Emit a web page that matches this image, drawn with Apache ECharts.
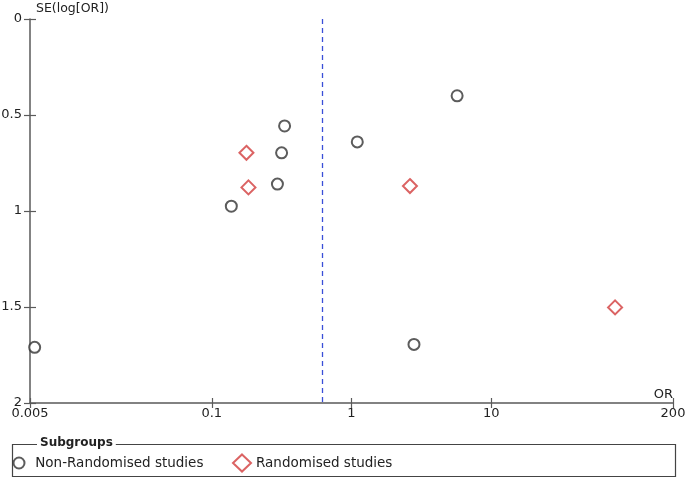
<!DOCTYPE html>
<html><head><meta charset="utf-8">
<script src="https://cdn.jsdelivr.net/npm/echarts@6/dist/echarts.min.js"></script>
<style>html,body{margin:0;padding:0;background:#fff}#c{width:688px;height:480px}</style>
</head><body><div id="c"></div>
<script>
// [OR, SE(log[OR])]
const nonRandomised = [[0.0054,1.71],[0.138,0.975],[0.295,0.86],[0.316,0.697],[0.332,0.557],[1.10,0.64],[5.7,0.40],[2.8,1.695]];
const randomised = [[0.177,0.697],[0.183,0.877],[2.62,0.87],[77,1.502]];
const pooledOR = 0.62;
const xTicks = [0.005,0.1,1,10,200];
const yTicks = [0,0.5,1,1.5,2];
const seriesNames = ['Non-Randomised studies','Randomised studies'];

const FONT = 'DejaVu Sans';
const axisCol = '#5a5a5a';
const txt = '#222';
const xBase = {type:'log',logBase:10,min:0.005,max:200,position:'bottom',
  splitLine:{show:false},minorTick:{show:false}};
const yBase = {type:'value',inverse:true,min:0,max:2,interval:0.5,position:'left',splitLine:{show:false}};
const chart = echarts.init(document.getElementById('c'));
chart.setOption({
  animation:false,
  textStyle:{fontFamily:FONT},
  grid:{left:30,right:15,top:19,bottom:77,containLabel:false,outerBoundsMode:'none'},
  xAxis:[Object.assign({},xBase,{
    name:'OR',nameLocation:'end',nameGap:0,
    nameTextStyle:{align:'right',verticalAlign:'bottom',padding:[0,0,2,0],color:txt,fontSize:13,fontFamily:FONT},
    axisLine:{show:true,onZero:false,lineStyle:{color:axisCol,width:1.5}},
    axisTick:{show:true,length:5,customValues:xTicks,lineStyle:{color:axisCol,width:1.2}},
    axisLabel:{customValues:xTicks,color:txt,fontSize:13,margin:4,fontFamily:FONT,
      formatter:v=>String(+(+v).toPrecision(3))}}),
    Object.assign({},xBase,{
    axisLine:{show:false,onZero:false},
    axisTick:{show:true,inside:true,length:5,customValues:xTicks,lineStyle:{color:axisCol,width:1.2}},
    axisLabel:{show:false}})],
  yAxis:[Object.assign({},yBase,{
    name:'SE(log[OR])',nameLocation:'start',nameGap:4,
    nameTextStyle:{align:'left',verticalAlign:'bottom',padding:[0,0,0,6],color:txt,fontSize:12.5,fontFamily:FONT},
    axisLine:{show:true,onZero:false,lineStyle:{color:axisCol,width:1.5}},
    axisTick:{show:true,length:6,lineStyle:{color:axisCol,width:1.2}},
    axisLabel:{color:txt,fontSize:13,margin:8,fontFamily:FONT,formatter:v=>String(v)}}),
    Object.assign({},yBase,{
    axisLine:{show:false,onZero:false},
    axisTick:{show:true,inside:true,length:6,lineStyle:{color:axisCol,width:1.2}},
    axisLabel:{show:false}})],
  legend:[
    {left:12.5,top:456,padding:0,itemWidth:22.5,itemHeight:11,
      textStyle:{color:txt,fontSize:13.5,fontFamily:FONT},
      data:[{name:seriesNames[0],icon:'emptyCircle'}]},
    {left:232,top:453.5,padding:0,itemWidth:18,itemHeight:17,
      textStyle:{color:txt,fontSize:13.5,fontFamily:FONT},
      data:[{name:seriesNames[1],icon:'emptyDiamond'}]}
  ],
  graphic:[
    {type:'rect',shape:{x:12.5,y:444.5,width:663,height:32},style:{fill:'none',stroke:'#444',lineWidth:1.2},silent:true},
    {type:'text',left:37,top:437,style:{text:'Subgroups',fontFamily:FONT,fontSize:12,fontWeight:'bold',fill:txt,backgroundColor:'#fff',padding:[0,3,0,3]},z:10}
  ],
  series:[
    {name:seriesNames[0],type:'scatter',xAxisIndex:0,yAxisIndex:0,data:nonRandomised,symbol:'emptyCircle',symbolSize:11,
      itemStyle:{color:'#333',borderColor:'#333',borderWidth:1.6},
      markLine:{silent:true,symbol:'none',label:{show:false},
        lineStyle:{color:'#3a4fd8',type:[5,4],width:1.3},data:[{xAxis:pooledOR}]}},
    {name:seriesNames[1],type:'scatter',xAxisIndex:0,yAxisIndex:0,data:randomised,symbol:'emptyDiamond',symbolSize:14,
      itemStyle:{color:'#d23c3c',borderColor:'#d23c3c',borderWidth:1.5}}
  ]
});
</script></body></html>
